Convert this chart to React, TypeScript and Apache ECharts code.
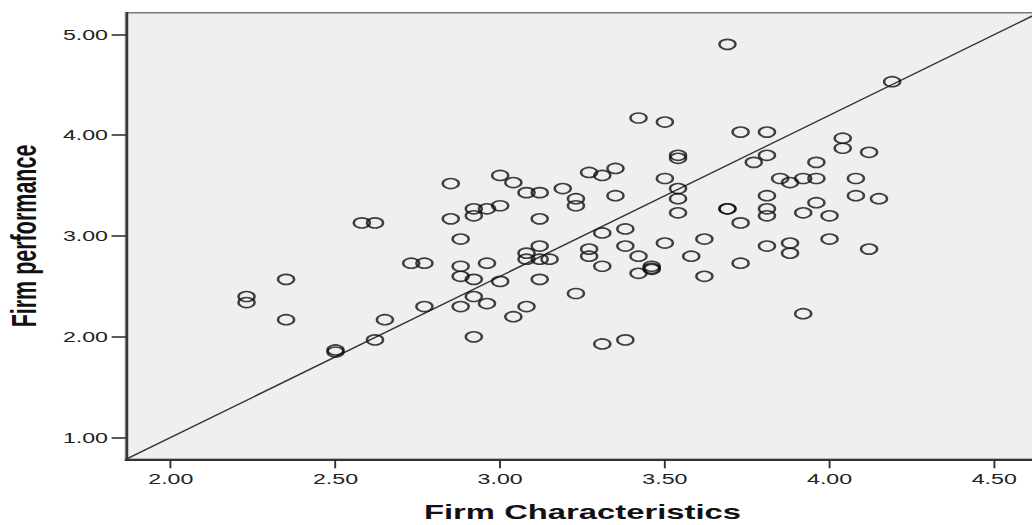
import React, { useEffect, useRef } from "react";
import * as echarts from "echarts";

// Firm Characteristics (x) and Firm performance (y), one entry per respondent
const firmCharacteristics = [
  2.23, 2.23, 2.35, 2.35, 2.5, 2.5, 2.58, 2.62, 2.62, 2.65,
  2.73, 2.77, 2.77, 2.85, 2.85, 2.88, 2.88, 2.88, 2.88, 2.92,
  2.92, 2.92, 2.92, 2.92, 2.96, 2.96, 2.96, 3.0, 3.0, 3.0,
  3.04, 3.04, 3.08, 3.08, 3.08, 3.08, 3.12, 3.12, 3.12, 3.12,
  3.12, 3.15, 3.19, 3.23, 3.23, 3.23, 3.27, 3.27, 3.27, 3.31,
  3.31, 3.31, 3.31, 3.35, 3.35, 3.38, 3.38, 3.38, 3.42, 3.42,
  3.42, 3.46, 3.46, 3.46, 3.5, 3.5, 3.5, 3.54, 3.54, 3.54,
  3.54, 3.54, 3.58, 3.62, 3.62, 3.69, 3.69, 3.69, 3.73, 3.73,
  3.73, 3.77, 3.81, 3.81, 3.81, 3.81, 3.81, 3.81, 3.85, 3.88,
  3.88, 3.88, 3.92, 3.92, 3.92, 3.96, 3.96, 3.96, 4.0, 4.0,
  4.04, 4.04, 4.08, 4.08, 4.12, 4.12, 4.15, 4.19,
];
const firmPerformance = [
  2.4, 2.34, 2.57, 2.17, 1.87, 1.85, 3.13, 3.13, 1.97, 2.17,
  2.73, 2.73, 2.3, 3.52, 3.17, 2.97, 2.7, 2.6, 2.3, 3.27,
  3.2, 2.57, 2.4, 2.0, 3.27, 2.73, 2.33, 3.6, 3.3, 2.55,
  3.53, 2.2, 3.43, 2.83, 2.77, 2.3, 3.43, 3.17, 2.9, 2.77,
  2.57, 2.77, 3.47, 3.37, 3.3, 2.43, 3.63, 2.87, 2.8, 3.6,
  3.03, 2.7, 1.93, 3.67, 3.4, 3.07, 2.9, 1.97, 4.17, 2.8,
  2.63, 2.7, 2.68, 2.67, 4.13, 3.57, 2.93, 3.8, 3.77, 3.47,
  3.37, 3.23, 2.8, 2.97, 2.6, 4.9, 3.27, 3.27, 4.03, 3.13,
  2.73, 3.73, 4.03, 3.8, 3.4, 3.27, 3.2, 2.9, 3.57, 3.53,
  2.93, 2.83, 3.57, 3.23, 2.23, 3.73, 3.57, 3.33, 3.2, 2.97,
  3.97, 3.87, 3.57, 3.4, 3.83, 2.87, 3.37, 4.53,
];

const xTicks = [2.0, 2.5, 3.0, 3.5, 4.0, 4.5];
const yTicks = [1.0, 2.0, 3.0, 4.0, 5.0];
const xRange = [1.864, 4.636];
const yRange = [0.786, 5.214];
const fitLineX = [1.864, 4.636];
const fitLineY = [0.786, 5.214];
const xTitle = "Firm Characteristics";
const yTitle = "Firm performance";

const STRETCH = 1.6;

export default function App() {
  const ref = useRef<HTMLDivElement>(null);
  useEffect(() => {
    if (!ref.current) return;
    const chart = echarts.init(ref.current, null, { renderer: "svg" });
    const points = firmCharacteristics.map((x, i) => [x, firmPerformance[i]]);
    const fit = fitLineX.map((x, i) => [x, fitLineY[i]]);
    const labelFont = '"Liberation Sans", Arial, sans-serif';
    chart.setOption({
      animation: false,
      backgroundColor: "#ffffff",
      grid: {
        show: true,
        left: 78.75,
        right: 10.6,
        top: 12.7,
        bottom: 65.7,
        containLabel: false,
        outerBoundsMode: "none",
        backgroundColor: "#efefef",
        borderColor: "#7a7a7a",
        borderWidth: 1.5,
      },
      xAxis: {
        type: "value",
        min: xRange[0],
        max: xRange[1],
        name: xTitle,
        nameLocation: "middle",
        nameGap: 42,
        nameTextStyle: {
          fontFamily: labelFont,
          fontWeight: "bold",
          fontSize: 20.5,
          color: "#111",
        },
        axisLine: { show: true, onZero: false, lineStyle: { color: "#333", width: 2 } },
        axisTick: {
          show: true,
          customValues: xTicks,
          length: 9,
          lineStyle: { color: "#333", width: 1.2 },
        },
        axisLabel: {
          customValues: xTicks,
          formatter: (v: number) => v.toFixed(2),
          fontFamily: labelFont,
          fontSize: 14.5,
          color: "#222",
          margin: 12,
        },
        splitLine: { show: false },
      },
      yAxis: {
        type: "value",
        min: yRange[0],
        max: yRange[1],
        name: yTitle,
        nameLocation: "middle",
        nameRotate: 90,
        nameGap: 53,
        nameTextStyle: {
          fontFamily: labelFont,
          fontWeight: "bold",
          fontSize: 21.5,
          color: "#111",
        },
        axisLine: { show: true, onZero: false, lineStyle: { color: "#333", width: 1.3 } },
        axisTick: {
          show: true,
          customValues: yTicks,
          length: 9,
          lineStyle: { color: "#333", width: 1.6 },
        },
        axisLabel: {
          customValues: yTicks,
          formatter: (v: number) => v.toFixed(2),
          fontFamily: labelFont,
          fontSize: 14.5,
          color: "#222",
          margin: 11.25,
        },
        splitLine: { show: false },
      },
      series: [
        {
          type: "line",
          data: fit,
          showSymbol: false,
          clip: true,
          lineStyle: { color: "#333", width: 1.3 },
          silent: true,
          z: 3,
        },
        {
          type: "scatter",
          data: points,
          symbol: "circle",
          symbolSize: 10,
          itemStyle: {
            color: "rgba(0,0,0,0)",
            borderColor: "#111",
            borderWidth: 1.6,
          },
          z: 4,
        },
      ],
    });
    return () => chart.dispose();
  }, []);
  return (
    <div
      style={{
        position: "fixed",
        left: 0,
        top: 0,
        width: 1032,
        height: 525,
        overflow: "hidden",
        background: "#ffffff",
      }}
    >
      <div
        ref={ref}
        style={{
          width: 660,
          height: 525,
          transform: `scaleX(${STRETCH})`,
          transformOrigin: "0 0",
        }}
      />
    </div>
  );
}
